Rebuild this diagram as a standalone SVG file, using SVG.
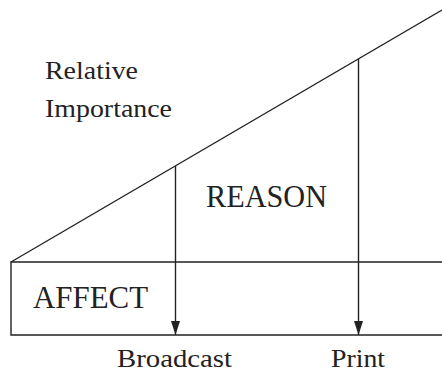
<svg xmlns="http://www.w3.org/2000/svg" width="442" height="374" viewBox="0 0 442 374">
<style>
.ln{stroke:#222;stroke-width:1.4;fill:none}
.t{font-family:"Liberation Serif","Times New Roman",serif;fill:#222}
</style>
<defs>
<marker id="ah" markerWidth="14" markerHeight="9" refX="14" refY="4.5" orient="auto" markerUnits="userSpaceOnUse">
<path d="M0,0 L14,4.5 L0,9 Z" fill="#222"/>
</marker>
</defs>
<rect width="442" height="374" fill="#fff"/>
<g id="chart">
<line class="ln" x1="11" y1="262" x2="442" y2="10"/>
<polyline class="ln" points="442,262 11,262 11,335 442,335"/>
</g>
<g id="connectors">
<line class="ln" x1="175.5" y1="166" x2="175.5" y2="335" marker-end="url(#ah)"/>
<line class="ln" x1="358.5" y1="59" x2="358.5" y2="335" marker-end="url(#ah)"/>
</g>
<g id="labels">
<text class="t" x="45" y="79" font-size="26" textLength="93" lengthAdjust="spacingAndGlyphs">Relative</text>
<text class="t" x="45" y="117" font-size="26" textLength="127" lengthAdjust="spacingAndGlyphs">Importance</text>
<text class="t" x="206" y="207" font-size="32" textLength="121" lengthAdjust="spacingAndGlyphs">REASON</text>
<text class="t" x="33" y="308" font-size="31" textLength="115" lengthAdjust="spacingAndGlyphs">AFFECT</text>
<text class="t" x="117" y="367" font-size="26" textLength="115" lengthAdjust="spacingAndGlyphs">Broadcast</text>
<text class="t" x="331" y="367" font-size="26" textLength="54" lengthAdjust="spacingAndGlyphs">Print</text>
</g>
</svg>
